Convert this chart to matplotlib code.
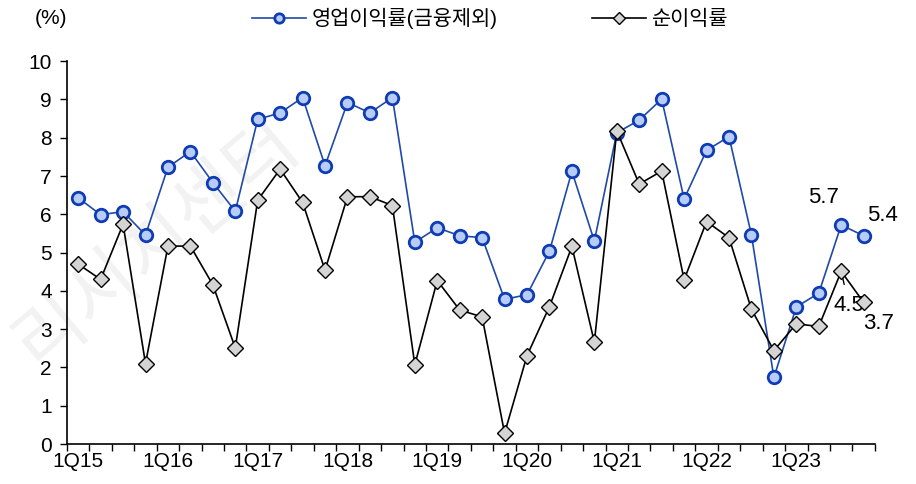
import matplotlib
matplotlib.use("Agg")
import matplotlib.pyplot as plt
import numpy as np

# quarters 1Q15 .. 4Q23
quarters = [f"{q}Q{y}" for y in range(15, 24) for q in range(1, 5)]
tick_labels = [f"1Q{y}" for y in range(15, 24)]

op_margin = [6.43, 5.99, 6.07, 5.46, 7.23, 7.64, 6.83, 6.08,
             8.48, 8.65, 9.05, 7.27, 8.92, 8.65, 9.05, 5.27,
             5.65, 5.44, 5.39, 3.78, 3.90, 5.04, 7.12, 5.30,
             8.13, 8.46, 9.01, 6.40, 7.67, 8.03, 5.46, 1.74,
             3.58, 3.94, 5.72, 5.44]
net_margin = [4.70, 4.30, 5.74, 2.10, 5.17, 5.17, 4.16, 2.51,
              6.37, 7.18, 6.31, 4.54, 6.46, 6.46, 6.23, 2.07,
              4.27, 3.50, 3.32, 0.28, 2.31, 3.59, 5.16, 2.66,
              8.18, 6.79, 7.13, 4.29, 5.81, 5.39, 3.52, 2.44,
              3.14, 3.07, 4.51, 3.70]

plt.rcParams['font.family'] = ['Liberation Sans', 'Noto Sans CJK KR', 'DejaVu Sans']

fig = plt.figure(figsize=(9.16, 4.84), dpi=100)
ax = fig.add_axes([0.0731, 0.0826, 0.882, 0.791])
ax.patch.set_alpha(0)

x = np.arange(len(quarters))

# faint watermark behind everything
fig.text(0.17, 0.50, "리서치센터", rotation=40, fontsize=54, color="#f2f2f2",
         family=['Noto Sans CJK KR'], ha="center", va="center", zorder=-1)

ax.plot(x, op_margin, color="#1f4aa8", lw=1.2, marker="o", ms=9,
        mfc="#b7cdf7", mec="#0f3cb4", mew=2.0, label="영업이익률(금융제외)", zorder=3)
ax.plot(x, net_margin, color="black", lw=1.2, marker="D", ms=8,
        mfc="#d4d4d4", mec="black", mew=1.0, label="순이익률", zorder=4)

# end-point labels
ax.text(x[-2] - 0.1, op_margin[-2] + 0.45, f"{op_margin[-2]:.1f}", fontsize=16, ha="right", va="bottom")
ax.text(x[-1] + 0.15, op_margin[-1] + 0.25, f"{op_margin[-1]:.1f}", fontsize=16, ha="left", va="bottom")
ax.annotate(f"{net_margin[-2]:.1f}", xy=(x[-2], net_margin[-2]), xytext=(x[-2] + 0.35, net_margin[-2] - 0.9),
            fontsize=16, ha="center", va="center",
            arrowprops=dict(arrowstyle="-", color="black", lw=1.0, shrinkA=6, shrinkB=0))
ax.text(x[-1] + 0.65, net_margin[-1] - 0.55, f"{net_margin[-1]:.1f}", fontsize=16, ha="center", va="center")

ax.set_xlim(-0.5, len(quarters) - 0.5)
ax.set_ylim(0, 10)
ax.set_yticks(range(0, 11))
ax.set_xticks(x[::4])
ax.set_xticklabels(tick_labels)
ax.set_xticks(np.arange(-0.5, len(quarters)), minor=True)
ax.tick_params(axis="x", which="major", length=0, labelsize=15, pad=6)
ax.tick_params(axis="x", which="minor", length=5, width=1, direction="out")
ax.tick_params(axis="y", length=5, width=1, direction="out", labelsize=15, pad=6)

for s in ["top", "right"]:
    ax.spines[s].set_visible(False)
for s in ["left", "bottom"]:
    ax.spines[s].set_linewidth(1.2)

fig.text(0.038, 0.962, "(%)", fontsize=15, ha="left", va="center")
fig.legend(loc="center", bbox_to_anchor=(0.535, 0.962), ncol=2, frameon=False,
           fontsize=15, handlelength=2.6, columnspacing=4.5, handletextpad=0.3,
           markerscale=0.75)

fig.savefig("out.png", dpi=100)
